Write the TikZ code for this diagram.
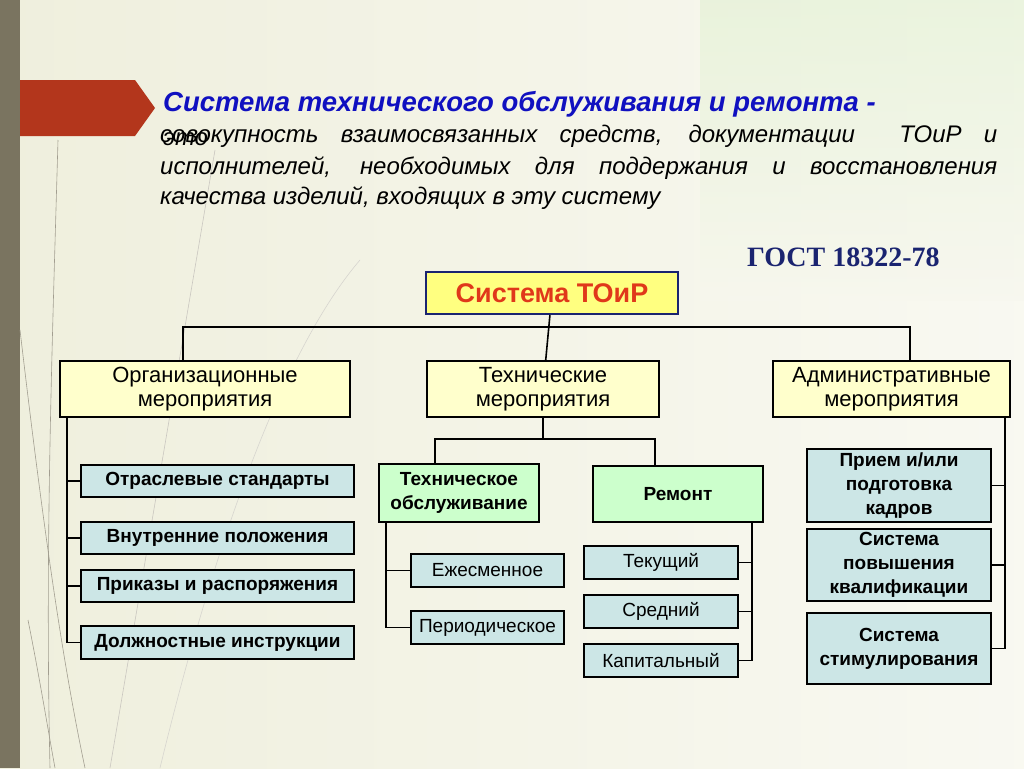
\documentclass[tikz,border=0pt]{standalone}
\usepackage{fontspec}
\setmainfont{Liberation Sans}
\newfontfamily\gostfont{Liberation Serif}
\usetikzlibrary{positioning}
\definecolor{slidebg}{HTML}{EFEFDD}
\definecolor{stripe}{HTML}{7A7460}
\definecolor{flag}{HTML}{B3361C}
\definecolor{titleblue}{HTML}{1010C0}
\definecolor{gostblue}{HTML}{1A2470}
\definecolor{rootred}{HTML}{E0381A}
\definecolor{rootfill}{HTML}{FFFF80}
\definecolor{midfill}{HTML}{FFFFCC}
\definecolor{greenfill}{HTML}{CCFFCC}
\definecolor{bluefill}{HTML}{CCE6E6}
\tikzset{
    % box styles
    rootbox/.style={draw=gostblue,line width=2pt,fill=rootfill,inner sep=0pt,
           font=\fontsize{27}{30}\selectfont\bfseries,text=rootred},
    midbox/.style={draw=black,line width=2pt,fill=midfill,inner sep=0pt,align=center,
           font=\fontsize{22}{24}\selectfont},
    greenbox/.style={draw=black,line width=2pt,fill=greenfill,inner sep=0pt,align=center,
           font=\fontsize{19}{24}\selectfont\bfseries},
    leafbox/.style={draw=black,line width=2pt,fill=bluefill,inner sep=0pt,align=center,
           font=\fontsize{19}{21}\selectfont},
    leafbold/.style={leafbox,font=\fontsize{19}{24}\selectfont\bfseries},
    link/.style={line width=1.6pt,black},
    deco/.style={stripe!70,line width=0.6pt},
}
\newcommand\pbox[7]{% name, style, x1, y1, x2, height, text
  \node[#2,minimum width=#5-#3,minimum height=#6,anchor=north west] (#1) at (#3,#4) {#7};}
\begin{document}
\begin{tikzpicture}[x=1pt,y=-1pt]
  \useasboundingbox (0,0) rectangle (1024,768);
  \shade[left color=slidebg,right color=slidebg!40!white] (0,0) rectangle (1024,768);
  \shade[top color=green!7!slidebg,bottom color=slidebg!50!white,opacity=0.5] (700,0) rectangle (1024,300);
  \fill[stripe] (0,0) rectangle (20,768);
  % thin decorative strokes
  \draw[deco] (20,330) .. controls (40,500) and (60,650) .. (85,768);
  \draw[deco] (58,140) .. controls (52,350) and (45,550) .. (50,768);
  \draw[deco] (28,620) .. controls (40,680) and (48,730) .. (55,768);
  \draw[deco,stripe!40] (110,768) -- (215,150);
  \draw[deco,stripe!30] (160,768) .. controls (230,480) and (300,330) .. (360,260);
  \fill[flag] (20,80) -- (135,80) -- (155,108) -- (135,136) -- (20,136) -- cycle;
  % heading and definition
  \node[anchor=base west,inner sep=0pt,text=titleblue,font=\fontsize{27.5}{30}\selectfont\bfseries\itshape]
       (title) at (163,111) {Система технического обслуживания и ремонта -};
  \node[anchor=base west,inner sep=0pt,font=\fontsize{24}{26}\selectfont\itshape] (eto) at (163,145) {это};
  \node[anchor=base west,text width=837pt,inner sep=0pt,align=justify,
        font=\fontsize{24}{26}\selectfont\itshape] (def1) at (160,142)
       {{\parfillskip=0pt совокупность взаимосвязанных средств, документации\ \ ТОиР и\par}};
  \node[anchor=base west,text width=837pt,inner sep=0pt,align=justify,
        font=\fontsize{24}{26}\selectfont\itshape] (def2) at (160,174)
       {{\parfillskip=0pt исполнителей, необходимых для поддержания и восстановления\par}};
  \node[anchor=base west,inner sep=0pt,font=\fontsize{24}{26}\selectfont\itshape]
       (def3) at (160,204) {качества изделий, входящих в эту систему};
  \node[anchor=base west,inner sep=0pt,text=gostblue,font=\gostfont\fontsize{28}{30}\selectfont\bfseries]
       (gost) at (747,266) {ГОСТ 18322-78};
  % boxes
  \pbox{root}{rootbox}{425}{271}{677}{42}{Система ТОиР}
  \pbox{org}{midbox}{59}{360}{349}{56}{Организационные\\мероприятия}
  \pbox{tech}{midbox}{426}{360}{658}{56}{Технические\\мероприятия}
  \pbox{adm}{midbox}{772}{360}{1009}{56}{Административные\\мероприятия}
  \pbox{to}{greenbox}{378}{463}{538}{58}{Техническое\\обслуживание}
  \pbox{rem}{greenbox}{592}{465}{762}{56}{Ремонт}
  \pbox{o1}{leafbold}{80}{464}{353}{32}{Отраслевые стандарты}
  \pbox{o2}{leafbold}{80}{521}{353}{32}{Внутренние положения}
  \pbox{o3}{leafbold}{80}{569}{353}{32}{Приказы и распоряжения}
  \pbox{o4}{leafbold}{80}{625}{353}{33}{Должностные инструкции}
  \pbox{t1}{leafbox}{410}{553}{563}{33}{Ежесменное}
  \pbox{t2}{leafbox}{410}{610}{563}{33}{Периодическое}
  \pbox{r1}{leafbox}{583}{545}{737}{33}{Текущий}
  \pbox{r2}{leafbox}{583}{594}{737}{33}{Средний}
  \pbox{r3}{leafbox}{583}{643}{737}{33}{Капитальный}
  \pbox{a1}{leafbold}{806}{448}{990}{73}{Прием и/или\\подготовка\\кадров}
  \pbox{a2}{leafbold}{806}{528}{990}{72}{Система\\повышения\\квалификации}
  \pbox{a3}{leafbold}{806}{612}{990}{71}{Система\\стимулирования}
  % connectors
  \coordinate (bus) at (547,327);
  \draw[link] (root) -- (tech);
  \draw[link] (org.north -| 183,0) |- (bus) -| (adm.north -| 910,0);
  \draw[link] (tech.south) -- ++(0,21) coordinate (tbus);
  \draw[link] (to.north -| 435,0) |- (tbus) -| (rem.north -| 655,0);
  \foreach \n in {o1,o2,o3,o4} \draw[link] (org.south -| 67,0) |- (\n.west);
  \foreach \n in {t1,t2} \draw[link] (to.south -| 386,0) |- (\n.west);
  \foreach \n in {r1,r2,r3} \draw[link] (rem.south -| 752,0) |- (\n.east);
  \draw[link] (adm.south -| 1005,0) |- (a1.east);
  \foreach \n in {a2,a3} \draw[link] (1005,430) |- (\n.east);
\end{tikzpicture}
\end{document}
